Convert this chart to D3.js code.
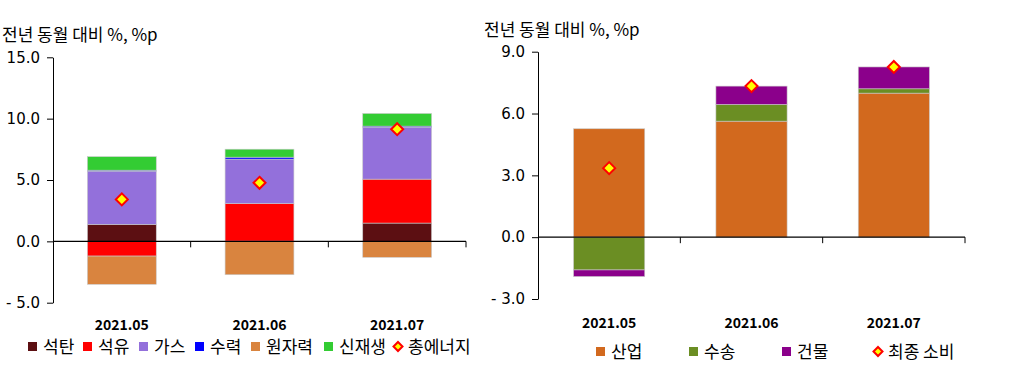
<!DOCTYPE html>
<html>
<head>
<meta charset="utf-8">
<script src="https://cdn.jsdelivr.net/npm/d3@7"></script>
<style>
  body { margin: 0; background: #fff; }
  text { font-family: "Noto Sans CJK KR", "Noto Sans", sans-serif; fill: #000; }
</style>
</head>
<body>
<svg id="chart" width="1024" height="375"></svg>
<script>
// ---- data ----
var months = ["2021.05", "2021.06", "2021.07"];

// left: energy source contributions
var leftSeries = ["석탄", "석유", "가스", "수력", "원자력", "신재생"];
var leftColors = ["#5c0f12", "#ff0000", "#9370db", "#0000ff", "#d9843f", "#33cc33"];
var coal    = [1.38, 0.02, 1.49];
var oil     = [-1.20, 3.06, 3.58];
var gas     = [4.34, 3.62, 4.23];
var hydro   = [0.08, 0.16, 0.09];
var nuclear = [-2.30, -2.72, -1.30];
var renew   = [1.10, 0.65, 1.03];
var totalEnergy = [3.42, 4.77, 9.14];
var leftTicks = [-5, 0, 5, 10, 15];

// right: final consumption by sector
var rightSeries = ["산업", "수송", "건물"];
var rightColors = ["#d2691e", "#6b8e23", "#8b008b"];
var industry  = [5.26, 5.63, 6.99];
var transport = [-1.59, 0.81, 0.21];
var building  = [-0.32, 0.89, 1.06];
var finalUse  = [3.35, 7.33, 8.26];
var rightTicks = [-3, 0, 3, 6, 9];

var svg = d3.select("#chart");

function fmt(d) {
    return d < 0 ? "- " + Math.abs(d).toFixed(1) : d.toFixed(1);
}

function diamond(g, x, y, r) {
    g.append("path")
        .attr("d", "M" + x + "," + (y - r) + "L" + (x + r) + "," + y + "L" + x + "," + (y + r) + "L" + (x - r) + "," + y + "Z")
        .attr("fill", "#ffff00")
        .attr("stroke", "#ff0000")
        .attr("stroke-width", 2);
}

function drawChart(opt) {
    var g = svg.append("g");

    var x = d3.scaleBand().domain(months).range([opt.x0, opt.x1]).paddingInner(0).paddingOuter(0);
    var y = d3.scaleLinear().domain(opt.domain).range([opt.y0, opt.y1]);

    // stack positive and negative separately
    var rows = months.map(function (m, i) {
        var r = { month: m };
        opt.names.forEach(function (n, k) { r[n] = opt.values[k][i]; });
        return r;
    });
    var stack = d3.stack().keys(opt.names).offset(d3.stackOffsetDiverging)(rows);

    var bw = x.bandwidth() * opt.barFrac;
    stack.forEach(function (layer, k) {
        g.selectAll(null)
            .data(layer)
            .enter()
            .append("rect")
            .attr("x", function (d) { return x(d.data.month) + (x.bandwidth() - bw) / 2; })
            .attr("width", bw)
            .attr("y", function (d) { return y(d[1]); })
            .attr("height", function (d) { return Math.abs(y(d[0]) - y(d[1])); })
            .attr("fill", opt.colors[k])
            .attr("stroke", "#c8c8c8")
            .attr("stroke-width", 0.6);
    });

    // y axis
    var yAxis = d3.axisLeft(y).tickValues(opt.ticks).tickFormat(fmt).tickSize(6).tickSizeOuter(0);
    var ya = g.append("g").attr("transform", "translate(" + opt.x0 + ",0)").call(yAxis);
    ya.select(".domain").attr("stroke", "#000");
    ya.selectAll(".tick line").attr("stroke", "#000");
    ya.selectAll(".tick text")
        .attr("x", -13)
        .style("font-size", "15px")
        .style("font-family", "'DejaVu Sans', sans-serif");

    // zero line with category ticks
    var zy = y(0);
    g.append("line").attr("x1", opt.x0).attr("x2", opt.x1).attr("y1", zy).attr("y2", zy)
        .attr("stroke", "#000").attr("stroke-width", 1.3);
    g.selectAll(null).data(months).enter().append("line")
        .attr("x1", function (d) { return x(d) + x.bandwidth(); })
        .attr("x2", function (d) { return x(d) + x.bandwidth(); })
        .attr("y1", zy).attr("y2", zy + 6)
        .attr("stroke", "#000");

    // category labels
    g.selectAll(null).data(months).enter().append("text")
        .attr("x", function (d) { return x(d) + x.bandwidth() / 2; })
        .attr("y", opt.labelY)
        .attr("text-anchor", "middle")
        .style("font-size", "14px")
        .style("font-weight", "bold")
        .text(function (d) { return d; });

    // total markers
    months.forEach(function (m, i) {
        diamond(g, x(m) + x.bandwidth() / 2, y(opt.total[i]), 6);
    });

    // title
    g.append("text").attr("x", opt.titleX).attr("y", opt.titleY)
        .style("font-size", "17px")
        .text("전년 동월 대비 %, %p");

    // legend
    var items = opt.names.map(function (n, k) { return { name: n, color: opt.colors[k] }; });
    items.push({ name: opt.totalName, color: null });
    items.forEach(function (it, k) {
        var lx = opt.legendX[k];
        if (it.color) {
            g.append("rect").attr("x", lx).attr("y", opt.legendY - 5).attr("width", 9).attr("height", 9)
                .attr("fill", it.color);
        } else {
            diamond(g, lx + 5, opt.legendY - 0.5, 4.5);
        }
        g.append("text").attr("x", lx + 15).attr("y", opt.legendY + 6)
            .style("font-size", "17px")
            .text(it.name);
    });
}

drawChart({
    x0: 53, x1: 466, y0: 302.7, y1: 57.3,
    domain: [-5, 15], ticks: leftTicks, barFrac: 0.5,
    names: leftSeries, colors: leftColors,
    values: [coal, oil, gas, hydro, nuclear, renew],
    total: totalEnergy, totalName: "총에너지",
    labelY: 330, titleX: 2, titleY: 41,
    legendX: [28, 83, 139, 195, 251, 324, 393], legendY: 347
});

drawChart({
    x0: 538, x1: 965, y0: 299, y1: 51.7,
    domain: [-3, 9], ticks: rightTicks, barFrac: 0.5,
    names: rightSeries, colors: rightColors,
    values: [industry, transport, building],
    total: finalUse, totalName: "최종 소비",
    labelY: 328, titleX: 484, titleY: 36,
    legendX: [596, 689, 782, 873], legendY: 352
});
</script>
</body>
</html>
